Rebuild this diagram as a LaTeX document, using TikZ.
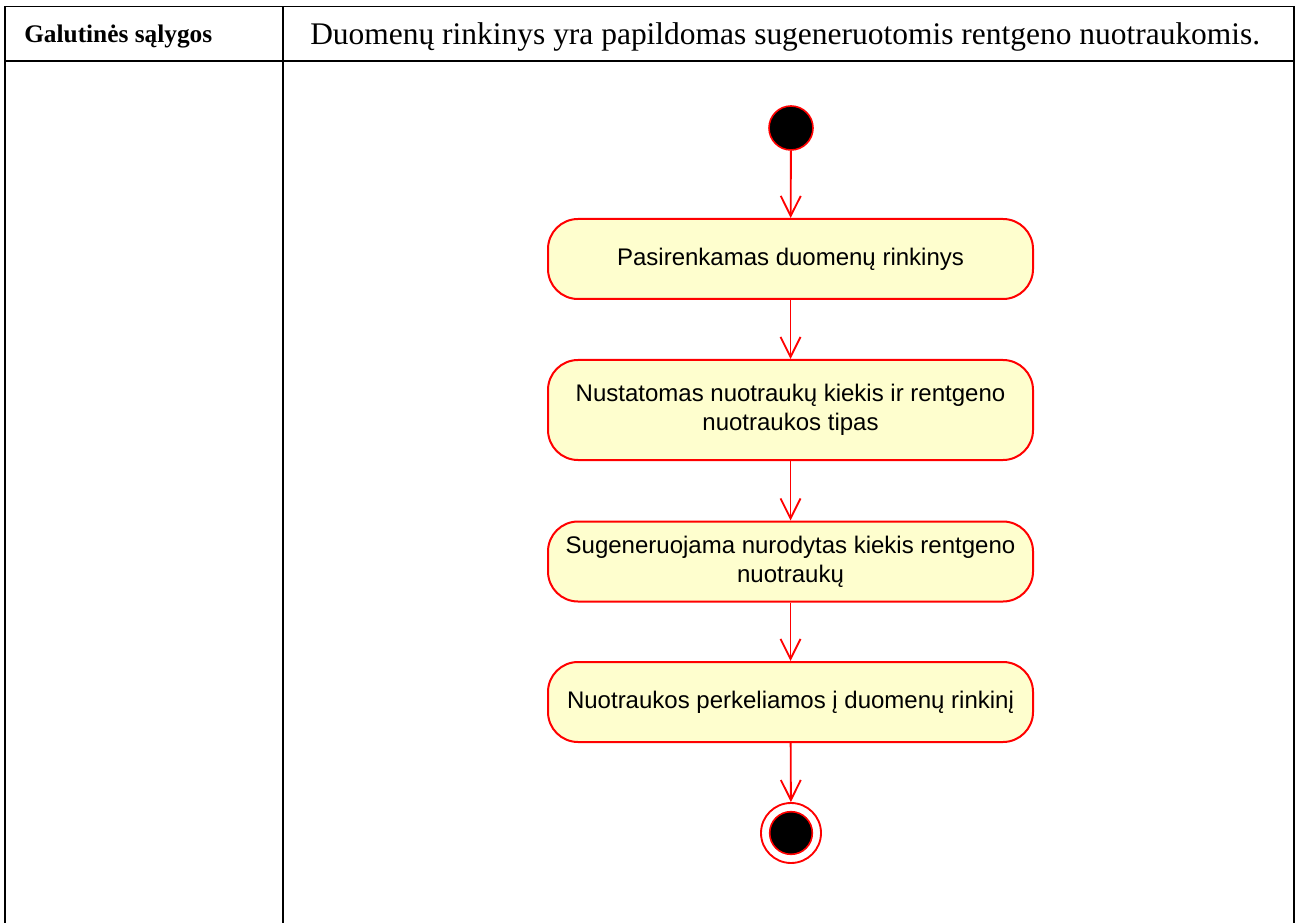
\documentclass[tikz,border=0pt]{standalone}
\usepackage{fontspec}
\setmainfont{Liberation Serif}
\newfontfamily\actfont{Liberation Sans}
\usetikzlibrary{arrows.meta}
\definecolor{actfill}{HTML}{FEFECE}
\definecolor{actline}{HTML}{FF0000}
\begin{document}
\begin{tikzpicture}[x=0.75pt,y=-0.75pt,
  tablerule/.style={draw=black,line width=1.3pt},
  actbox/.style={draw=actline,fill=actfill,line width=1.5pt,rounded corners=22.5pt,
    minimum width=363.75pt,inner sep=0pt,align=center,
    font=\actfont\fontsize{18}{21.6}\selectfont,text=black},
  flow/.style={draw=actline,line width=1.4pt,-{Straight Barb[length=15pt,width=15pt,line width=1.4pt]}},
  startdot/.style={circle,fill=black,draw=actline,line width=1.2pt,minimum size=33pt,inner sep=0pt},
  enddot/.style={circle,fill=white,draw=actline,line width=1.4pt,minimum size=45pt,inner sep=0pt},
  endcore/.style={circle,fill=black,draw=actline,line width=1.2pt,minimum size=32pt,inner sep=0pt}]
\useasboundingbox (0,0) rectangle (1302,923);
\fill[white] (0,0) rectangle (1302,923);

% table frame
\draw[tablerule] (5,923) -- (5,6.5) -- (1294,6.5) -- (1294,923);
\draw[tablerule] (5,61) -- (1294,61);
\draw[tablerule] (283,6.5) -- (283,923);

\node[anchor=base west,inner sep=0pt,font=\bfseries\fontsize{19}{23}\selectfont] (hdrkey) at (24,43) {Galutinės sąlygos};
\node[anchor=base west,inner sep=0pt,font=\fontsize{23.6}{28}\selectfont] (hdrval) at (310,45) {Duomenų rinkinys yra papildomas sugeneruotomis rentgeno nuotraukomis.};

% activity flow
\node[startdot] (start) at (791,128) {};
\node[actbox,minimum height=60pt] (a1) at (790.5,259) {Pasirenkamas duomenų rinkinys};
\node[actbox,minimum height=75pt] (a2) at (790.5,410) {Nustatomas nuotraukų kiekis ir rentgeno\\nuotraukos tipas};
\node[actbox,minimum height=60pt] (a3) at (790.5,561.5) {Sugeneruojama nurodytas kiekis rentgeno\\nuotraukų};
\node[actbox,minimum height=60pt] (a4) at (790.5,702) {Nuotraukos perkeliamos į duomenų rinkinį};
\node[enddot] (stop) at (791,833) {};
\node[endcore] (stopcore) at (stop) {};

\draw[flow] (start) -- (a1);
\draw[flow] (a1) -- (a2);
\draw[flow] (a2) -- (a3);
\draw[flow] (a3) -- (a4);
\draw[flow] (a4) -- (stop);
\end{tikzpicture}
\end{document}
